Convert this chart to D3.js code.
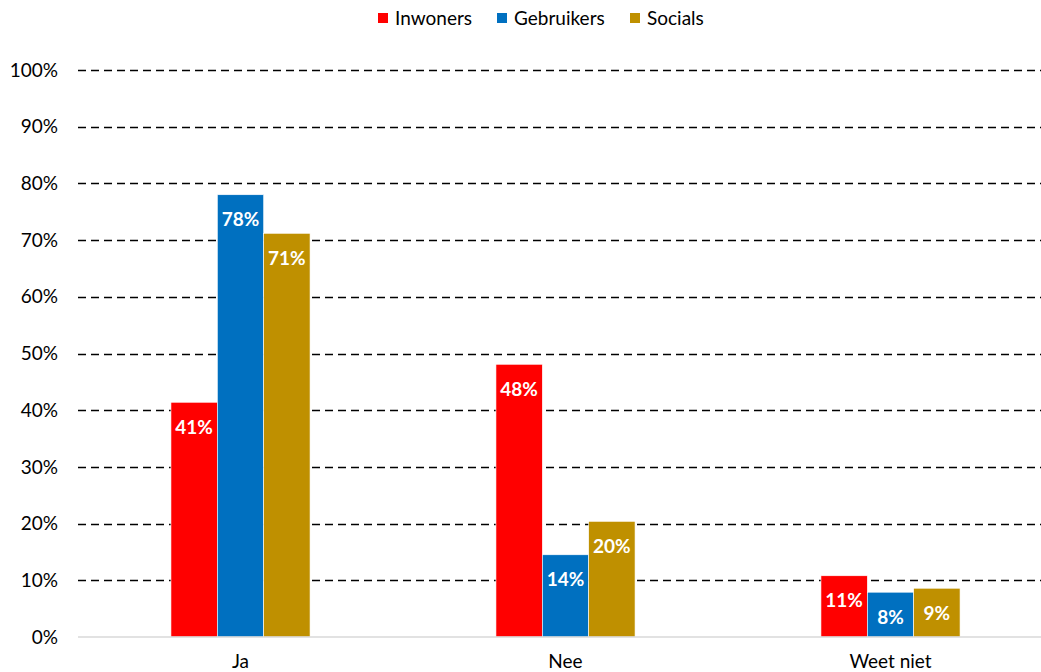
<!DOCTYPE html>
<html>
<head>
<meta charset="utf-8">
<script src="https://cdn.jsdelivr.net/npm/d3@7"></script>
<style>
  body { margin: 0; background: #fff; }
  svg { font-family: Lato, "Open Sans", sans-serif; }
</style>
</head>
<body>
<div id="chart"></div>
<script>
var categories = ["Ja", "Nee", "Weet niet"];
var series = ["Inwoners", "Gebruikers", "Socials"];
var inwoners = [0.414, 0.481, 0.108];
var gebruikers = [0.780, 0.145, 0.079];
var socials = [0.712, 0.204, 0.086];
var yTicks = [0, 0.1, 0.2, 0.3, 0.4, 0.5, 0.6, 0.7, 0.8, 0.9, 1];
var colorList = ["#ff0000", "#0070c0", "#bf9000"];

var w = 1041;
var h = 672;

var values = [inwoners, gebruikers, socials];

var svg = d3.select("#chart")
	.append("svg")
	.attr("width", w)
	.attr("height", h);

var yscale = d3.scaleLinear()
	.domain([0, 1])
	.range([637, 70]);

var x0 = d3.scaleBand()
	.domain(categories)
	.range([78, 1053])
	.paddingInner(0.572)
	.paddingOuter(0.286);

var x1 = d3.scaleBand()
	.domain(series)
	.range([0, x0.bandwidth()]);

var colors = d3.scaleOrdinal()
	.domain(series)
	.range(colorList);

// gridlines
svg.selectAll("line.grid")
	.data(yTicks.filter(function(d){ return d > 0; }))
	.enter()
	.append("line")
	.attr("class", "grid")
	.attr("x1", 78)
	.attr("x2", w)
	.attr("y1", function(d){ return Math.round(yscale(d)) + 0.5; })
	.attr("y2", function(d){ return Math.round(yscale(d)) + 0.5; })
	.style("stroke", "#000")
	.style("stroke-width", 1.6)
	.style("stroke-dasharray", "8,5");

// y labels
svg.selectAll("text.ylab")
	.data(yTicks)
	.enter()
	.append("text")
	.attr("class", "ylab")
	.attr("x", 58)
	.attr("y", function(d){ return yscale(d); })
	.attr("dy", "0.35em")
	.attr("text-anchor", "end")
	.style("font-size", "19px")
	.style("fill", "#000")
	.text(function(d){ return Math.round(d * 100) + "%"; });

// bars
var rows = [];
categories.forEach(function(c, i){
	series.forEach(function(s, j){
		rows.push({cat: c, ser: s, val: values[j][i]});
	});
});

svg.selectAll("rect.bar")
	.data(rows)
	.enter()
	.append("rect")
	.attr("class", "bar")
	.attr("x", function(d){ return x0(d.cat) + x1(d.ser); })
	.attr("y", function(d){ return yscale(d.val); })
	.attr("width", x1.bandwidth())
	.attr("height", function(d){ return yscale(0) - yscale(d.val); })
	.style("fill", function(d){ return colors(d.ser); })
	.style("stroke", "#fff")
	.style("stroke-width", 0.6);

// baseline
svg.append("line")
	.attr("x1", 78)
	.attr("x2", w)
	.attr("y1", 637)
	.attr("y2", 637)
	.style("stroke", "#d9d9d9")
	.style("stroke-width", 1.5);

// value labels
svg.selectAll("text.val")
	.data(rows)
	.enter()
	.append("text")
	.attr("class", "val")
	.attr("x", function(d){ return x0(d.cat) + x1(d.ser) + x1.bandwidth() / 2; })
	.attr("y", function(d){ return yscale(d.val) + 25; })
	.attr("dy", "0.35em")
	.attr("text-anchor", "middle")
	.style("font-size", "19px")
	.style("font-weight", "bold")
	.style("fill", "#fff")
	.text(function(d){ return Math.round(d.val * 100) + "%"; });

// category labels
svg.selectAll("text.cat")
	.data(categories)
	.enter()
	.append("text")
	.attr("class", "cat")
	.attr("x", function(d){ return x0(d) + x0.bandwidth() / 2; })
	.attr("y", 661)
	.attr("dy", "0.35em")
	.attr("text-anchor", "middle")
	.style("font-size", "19px")
	.style("fill", "#000")
	.text(function(d){ return d; });

// legend
var legendX = [378, 497, 630];
var legend = svg.selectAll("g.leg")
	.data(series)
	.enter()
	.append("g")
	.attr("class", "leg")
	.attr("transform", function(d, i){ return "translate(" + legendX[i] + ",13)"; });

legend.append("rect")
	.attr("width", 10)
	.attr("height", 10)
	.style("fill", function(d){ return colors(d); });

legend.append("text")
	.attr("x", 17)
	.attr("y", 5)
	.attr("dy", "0.35em")
	.style("font-size", "19px")
	.style("fill", "#000")
	.text(function(d){ return d; });
</script>
</body>
</html>
